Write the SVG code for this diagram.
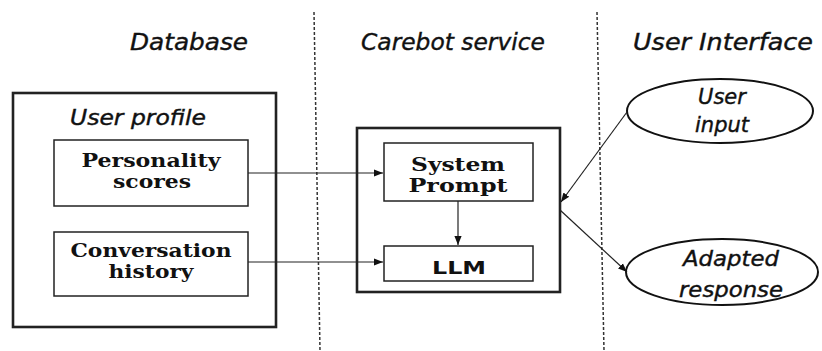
<svg xmlns="http://www.w3.org/2000/svg" width="822" height="351" viewBox="0 0 822 351">
<defs>
<marker id="ah" viewBox="0 0 10 10" refX="10" refY="5" markerWidth="9" markerHeight="9" markerUnits="userSpaceOnUse" orient="auto">
<path d="M0,1 L10,5 L0,9 z" fill="#111"/>
</marker>
<style>
.hand{font-family:"DejaVu Sans","Liberation Sans",sans-serif;font-style:italic;fill:#111;stroke:#111;stroke-width:0.4;text-anchor:middle}
.title{font-size:23px}
.lbl{font-size:21px}
.serif{font-family:"DejaVu Serif","Liberation Serif",serif;font-weight:bold;font-size:18px;fill:#111;text-anchor:middle}
.sans{font-family:"DejaVu Sans","Liberation Sans",sans-serif;font-weight:bold;font-size:18px;fill:#111;text-anchor:middle}
.outer{fill:none;stroke:#222;stroke-width:2.6}
.inner{fill:#fff;stroke:#222;stroke-width:1.5}
.ell{fill:#fff;stroke:#111;stroke-width:2}
.conn{stroke:#222;stroke-width:1.2;fill:none;marker-end:url(#ah)}
.dash{stroke:#333;stroke-width:1.5;stroke-dasharray:3 2;fill:none}
</style>
</defs>
<rect width="822" height="351" fill="#fff"/>
<g id="lanes">
<line class="dash" x1="314" y1="12" x2="320" y2="351"/>
<line class="dash" x1="597" y1="12" x2="604" y2="351"/>
<text class="hand title" x="189" y="50" textLength="118" lengthAdjust="spacingAndGlyphs">Database</text>
<text class="hand title" x="453" y="50" textLength="184" lengthAdjust="spacingAndGlyphs">Carebot service</text>
<text class="hand title" x="723" y="50" textLength="180" lengthAdjust="spacingAndGlyphs">User Interface</text>
</g>
<g id="user-profile">
<rect class="outer" x="13" y="93" width="263" height="234"/>
<text class="hand lbl" x="138" y="125" textLength="136" lengthAdjust="spacingAndGlyphs">User profile</text>
</g>
<g id="personality-scores">
<rect class="inner" x="54" y="140" width="194" height="66"/>
<text class="serif" x="151" y="167" textLength="139" lengthAdjust="spacingAndGlyphs">Personality</text>
<text class="serif" x="152" y="188" textLength="78" lengthAdjust="spacingAndGlyphs">scores</text>
</g>
<g id="conversation-history">
<rect class="inner" x="54" y="232" width="194" height="64"/>
<text class="serif" x="151" y="257" textLength="161" lengthAdjust="spacingAndGlyphs">Conversation</text>
<text class="serif" x="151" y="278" textLength="85" lengthAdjust="spacingAndGlyphs">history</text>
</g>
<g id="carebot-service">
<rect class="outer" x="357" y="128" width="203" height="164"/>
</g>
<g id="system-prompt">
<rect class="inner" x="384" y="143" width="149" height="58"/>
<text class="serif" x="458" y="171" textLength="94" lengthAdjust="spacingAndGlyphs">System</text>
<text class="serif" x="458" y="192" textLength="99" lengthAdjust="spacingAndGlyphs">Prompt</text>
</g>
<g id="llm">
<rect class="inner" x="384" y="246" width="149" height="35"/>
<text class="sans" x="459" y="274" textLength="54" lengthAdjust="spacingAndGlyphs">LLM</text>
</g>
<g id="user-input">
<ellipse class="ell" cx="720" cy="111" rx="93" ry="32"/>
<text class="hand lbl" x="722" y="104">User</text>
<text class="hand lbl" x="722" y="132">input</text>
</g>
<g id="adapted-response">
<ellipse class="ell" cx="722" cy="272" rx="96" ry="33"/>
<text class="hand lbl" x="731" y="266" textLength="96" lengthAdjust="spacingAndGlyphs">Adapted</text>
<text class="hand lbl" x="731" y="297" textLength="104" lengthAdjust="spacingAndGlyphs">response</text>
</g>
<g id="connectors">
<line class="conn" x1="248" y1="173" x2="383" y2="173"/>
<line class="conn" x1="248" y1="262" x2="383" y2="262"/>
<line class="conn" x1="458" y1="201" x2="458" y2="245"/>
<line class="conn" x1="627" y1="112" x2="561" y2="202"/>
<line class="conn" x1="560" y1="210" x2="627" y2="272"/>
</g>
</svg>
